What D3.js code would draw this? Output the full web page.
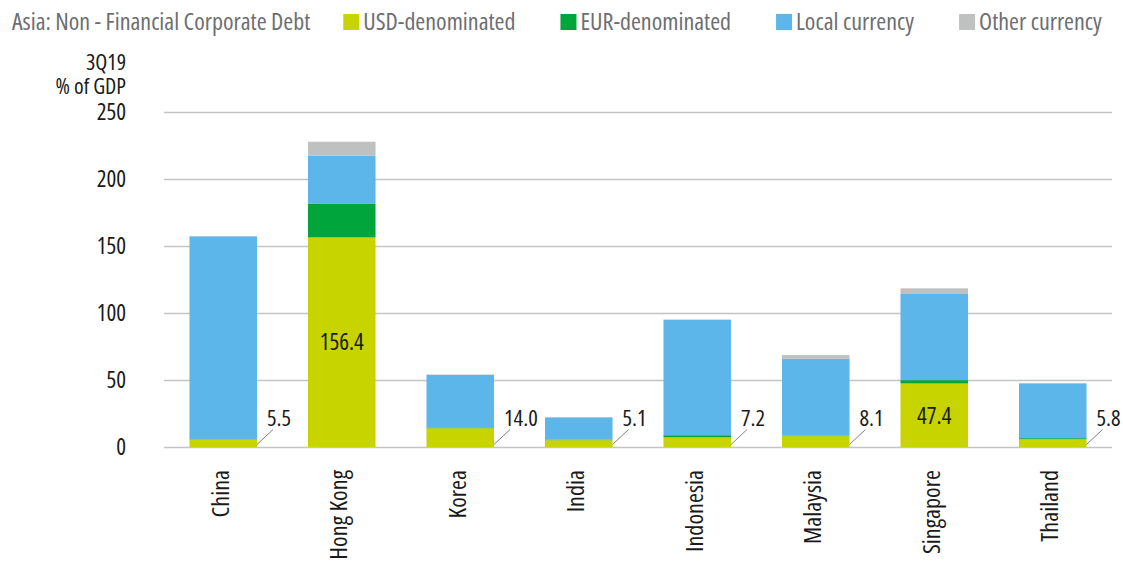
<!DOCTYPE html>
<html>
<head>
<meta charset="utf-8">
<script src="https://cdn.jsdelivr.net/npm/d3@7"></script>
<style>
  body { margin: 0; background: #fff; }
  svg { display: block; font-family: "Open Sans", "Liberation Sans Narrow", sans-serif; font-stretch: 75%; }
</style>
</head>
<body>
<div id="chart"></div>
<script>
// data (3Q19, % of GDP)
const countries = ["China", "Hong Kong", "Korea", "India", "Indonesia", "Malaysia", "Singapore", "Thailand"];
const usd   = [5.5, 156.4, 14.0, 5.1, 7.2, 8.1, 47.4, 5.8];
const eur   = [0.3, 25.0, 0.6, 0.3, 1.6, 0.4, 2.5, 0.8];
const local = [151.4, 35.9, 39.2, 16.7, 86.0, 57.3, 64.3, 40.9];
const other = [0.3, 10.5, 0.3, 0.3, 0.4, 2.8, 4.2, 0.3];
const yTicks = [0, 50, 100, 150, 200, 250];

const seriesNames = ["USD-denominated", "EUR-denominated", "Local currency", "Other currency"];
const seriesColors = ["#c8d400", "#00a53c", "#5db6e9", "#bfc0c0"];

const width = 1123, height = 561;
const margin = { left: 164, right: 11, top: 112, bottom: 114 };

const rows = countries.map((c, i) => ({
  country: c, usd: usd[i], eur: eur[i], local: local[i], other: other[i]
}));
const keys = ["usd", "eur", "local", "other"];
const stack = d3.stack().keys(keys)(rows);

const svg = d3.select("#chart").append("svg")
  .attr("width", width)
  .attr("height", height);

const x = d3.scaleBand()
  .domain(countries)
  .range([margin.left, width - margin.right])
  .paddingInner(0.43)
  .paddingOuter(0.215);

const y = d3.scaleLinear()
  .domain([0, 250])
  .range([height - margin.bottom, margin.top]);

// gridlines + y labels
const yAxis = svg.append("g")
  .attr("transform", `translate(${margin.left},0)`)
  .call(d3.axisLeft(y).tickValues(yTicks)
    .tickSize(-(width - margin.left - margin.right))
    .tickPadding(38))
  .attr("font-family", null)
  .attr("font-size", 23);
yAxis.select(".domain").remove();
yAxis.selectAll(".tick line").attr("stroke", "#c4c4c4").attr("stroke-width", 1.4);
yAxis.selectAll(".tick text").attr("fill", "#1a1a1a");

// y unit label
const unit = svg.append("text")
  .attr("text-anchor", "end")
  .attr("font-size", 22)
  .attr("fill", "#1a1a1a");
unit.append("tspan").attr("x", 126).attr("y", 70).text("3Q19");
unit.append("tspan").attr("x", 126).attr("y", 94).text("% of GDP");

// stacked bars
svg.append("g")
  .selectAll("g")
  .data(stack)
  .join("g")
  .attr("fill", (d, i) => seriesColors[i])
  .selectAll("rect")
  .data(d => d)
  .join("rect")
  .attr("x", d => x(d.data.country))
  .attr("width", x.bandwidth())
  .attr("y", d => y(d[1]))
  .attr("height", d => y(d[0]) - y(d[1]));

// x labels
const xAxis = svg.append("g")
  .attr("transform", `translate(0,${y(0)})`)
  .call(d3.axisBottom(x).tickSize(0).tickPadding(0))
  .attr("font-family", null)
  .attr("font-size", 24.2);
xAxis.select(".domain").remove();
xAxis.selectAll(".tick text")
  .attr("fill", "#1a1a1a")
  .attr("text-anchor", "end")
  .attr("transform", "rotate(-90)")
  .attr("x", -23)
  .attr("y", 0)
  .attr("dy", "0.22em");

// USD value labels
const labels = svg.append("g").attr("font-size", 22.5).attr("fill", "#1a1a1a");
rows.forEach(r => {
  const inside = y(0) - y(r.usd) > 40;
  if (inside) {
    labels.append("text")
      .attr("x", x(r.country) + x.bandwidth() / 2)
      .attr("y", (y(0) + y(r.usd)) / 2)
      .attr("dy", "0.36em")
      .attr("text-anchor", "middle")
      .attr("font-size", 23)
      .text(r.usd.toFixed(1));
  } else {
    const bx = x(r.country) + x.bandwidth();
    labels.append("line")
      .attr("x1", bx).attr("y1", y(0) - 2.5)
      .attr("x2", bx + 16).attr("y2", y(0) - 17.5)
      .attr("stroke", "#808080").attr("stroke-width", 1);
    labels.append("text")
      .attr("x", bx + 10)
      .attr("y", y(0) - 21)
      .text(r.usd.toFixed(1));
  }
});

// legend
const legend = svg.append("g").attr("font-size", 24).attr("fill", "#6d6e71");
const title = legend.append("text")
  .attr("x", 12).attr("y", 30)
  .text("Asia: Non - Financial Corporate Debt");
let lx = 12 + title.node().getComputedTextLength() + 33;
seriesNames.forEach((name, i) => {
  legend.append("rect")
    .attr("x", lx).attr("y", 14)
    .attr("width", 16).attr("height", 16)
    .attr("fill", seriesColors[i]);
  const t = legend.append("text")
    .attr("x", lx + 20).attr("y", 30)
    .text(name);
  lx += 20 + t.node().getComputedTextLength() + 45;
});
</script>
</body>
</html>
